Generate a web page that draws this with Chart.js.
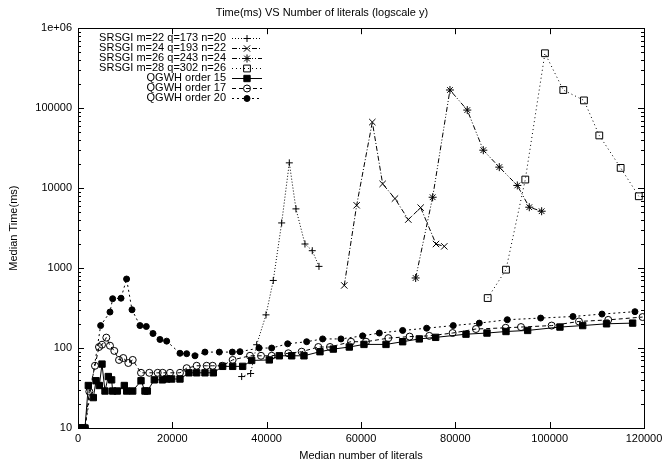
<!DOCTYPE html>
<html>
<head>
<meta charset="utf-8">
<title>Time(ms) VS Number of literals</title>
<script src="https://cdn.jsdelivr.net/npm/chart.js@4.4.1/dist/chart.umd.min.js"></script>
<style>
  body { margin: 0; background: #fff; }
</style>
</head>
<body>
<canvas id="timeChart" width="671" height="466"></canvas>
<script>
// median number of literals (x) and median time in ms (y) for each run
const srsgi22Literals = [34700, 36600, 37880, 39860, 41400, 43180, 44800, 46210, 48120, 49670, 51090];
const srsgi22Times = [44, 48, 110, 260, 700, 3670, 20700, 5500, 2000, 1650, 1050];

const srsgi24Literals = [56450, 59080, 62400, 64590, 67200, 70030, 72650, 75900, 77660];
const srsgi24Times = [607, 6100, 67000, 11300, 7400, 4040, 5700, 2000, 1870];

const srsgi26Literals = [71590, 75190, 78860, 82530, 85930, 89320, 93140, 95680, 98300];
const srsgi26Times = [752, 7690, 168700, 94600, 29800, 18300, 10800, 5770, 5140];

const srsgi28Literals = [86860, 90740, 94830, 99000, 102890, 107270, 110520, 115050, 118900];
const srsgi28Times = [422, 955, 12800, 486000, 168700, 125000, 45600, 17900, 7910];

const qgwh15Literals = [0, 780, 1480, 2190, 3250, 3820, 4520, 5090, 5720, 6430, 7130, 7350, 8340, 9820,
  10320, 11600, 13360, 14200, 14700, 16180, 17880, 18800, 19860, 21620, 23530, 25160, 26920, 28690,
  30670, 32790, 34910, 36820, 40560, 42680, 45300, 47910, 51300, 54130, 57520, 60630, 65300, 68830,
  72360, 75830, 82260, 86710, 90740, 95330, 102180, 107000, 112060, 117590];
const qgwh15Times = [10, 10, 10, 34, 24, 39, 34, 63, 29, 44, 40, 29, 29, 34,
  29, 29, 39, 29, 29, 40, 40, 41, 41, 41, 49, 49, 49, 49,
  59, 59, 59, 70, 71, 80, 80, 80, 90, 97, 103, 111, 111, 120,
  130, 136, 149, 154, 161, 166, 183, 191, 201, 205];

const qgwh17Literals = [0, 800, 1480, 2400, 3600, 4450, 5090, 6000, 6780, 7700, 8700, 9600, 10670, 11600,
  13360, 15120, 16900, 17950, 19500, 21620, 23040, 25160, 27280, 28550, 30590, 32790, 36460, 38800,
  41060, 44590, 47420, 50950, 53420, 57880, 61060, 65790, 70300, 74470, 79420, 84370, 90670, 93920,
  100420, 106210, 112420, 119700];
const qgwh17Times = [10, 10, 10, 28.5, 60, 103, 110, 135, 107, 92, 71, 75, 65, 71,
  49, 49, 49, 49, 49, 49, 56, 60, 60, 60, 60, 71, 80, 80,
  80, 86, 90, 103, 103, 120, 120, 133, 139, 142, 154, 173, 179, 183,
  191, 215, 225, 244];

const qgwh20Literals = [0, 800, 1480, 4800, 6780, 7350, 9120, 10300, 11450, 13140, 14480, 15900, 17380,
  18800, 21620, 23040, 24800, 26920, 29960, 32720, 34340, 38400, 41060, 44450, 48480, 51870, 55750,
  60350, 63880, 68830, 73920, 79560, 85080, 91020, 98090, 104940, 111090, 118080];
const qgwh20Times = [10, 10, 10, 191, 282, 414, 420, 730, 301, 191, 186, 152, 128,
  122, 86, 85, 80, 89, 89, 89, 90, 100, 100, 113, 120, 130, 130,
  142, 154, 166, 177, 191, 205, 226, 237, 248, 266, 285];

const xTicks = [0, 20000, 40000, 60000, 80000, 100000, 120000];
const yTicks = [10, 100, 1000, 10000, 100000, 1000000];

const FONT = "'Liberation Sans', Arial, Helvetica, sans-serif";
Chart.defaults.font.family = FONT;
Chart.defaults.font.size = 11;
Chart.defaults.color = '#000';

function points(xs, ys) {
  return xs.map((x, i) => ({ x: x, y: ys[i] }));
}

function series(label, xs, ys, style) {
  return Object.assign({
    label: label,
    data: points(xs, ys),
    borderColor: '#000',
    borderWidth: 1,
    pointBorderColor: '#000',
    pointBorderWidth: 1,
    pointBackgroundColor: 'rgba(0,0,0,0)',
    tension: 0,
    fill: false
  }, style);
}

const datasets = [
  series('SRSGI m=22 q=173 n=20', srsgi22Literals, srsgi22Times,
    { borderDash: [1, 2], pointStyle: 'cross', pointRadius: 3.5 }),
  series('SRSGI m=24 q=193 n=22', srsgi24Literals, srsgi24Times,
    { borderDash: [5, 2, 1, 2], pointStyle: 'crossRot', pointRadius: 4.5 }),
  series('SRSGI m=26 q=243 n=24', srsgi26Literals, srsgi26Times,
    { borderDash: [5, 2, 1, 2, 1, 2], pointStyle: 'star', pointRadius: 4 }),
  series('SRSGI m=28 q=302 n=26', srsgi28Literals, srsgi28Times,
    { borderDash: [1, 3], pointStyle: 'rect', pointRadius: 4.8 }),
  series('QGWH order 15', qgwh15Literals, qgwh15Times,
    { pointStyle: 'rect', pointRadius: 4.5, pointBackgroundColor: '#000' }),
  series('QGWH order 17', qgwh17Literals, qgwh17Times,
    { borderDash: [4, 3], pointStyle: 'circle', pointRadius: 3.5 }),
  series('QGWH order 20', qgwh20Literals, qgwh20Times,
    { borderDash: [2, 3], pointStyle: 'circle', pointRadius: 3, pointBackgroundColor: '#000' })
];

// frame with inward ticks on all four sides (gnuplot style)
const frameTicks = {
  id: 'frameTicks',
  afterDatasetsDraw(chart) {
    const { ctx, chartArea: a, scales: { x, y } } = chart;
    ctx.save();
    ctx.strokeStyle = '#000';
    ctx.lineWidth = 1;
    ctx.setLineDash([]);
    ctx.beginPath();
    xTicks.forEach(v => {
      const px = Math.round(x.getPixelForValue(v)) + 0.5;
      ctx.moveTo(px, a.bottom); ctx.lineTo(px, a.bottom - 6);
      ctx.moveTo(px, a.top); ctx.lineTo(px, a.top + 6);
    });
    yTicks.forEach((v, i) => {
      const py = Math.round(y.getPixelForValue(v)) + 0.5;
      ctx.moveTo(a.left, py); ctx.lineTo(a.left + 6, py);
      ctx.moveTo(a.right, py); ctx.lineTo(a.right - 6, py);
      if (i === yTicks.length - 1) return;
      for (let m = 2; m <= 9; m++) {
        const my = Math.round(y.getPixelForValue(v * m)) + 0.5;
        ctx.moveTo(a.left, my); ctx.lineTo(a.left + 3, my);
        ctx.moveTo(a.right, my); ctx.lineTo(a.right - 3, my);
      }
    });
    ctx.stroke();
    ctx.strokeRect(Math.round(a.left) + 0.5, Math.round(a.top) + 0.5,
      Math.round(a.width), Math.round(a.height));
    ctx.restore();
  }
};

// key in the top-left corner: label, then line sample with its marker
const keyBox = {
  id: 'keyBox',
  afterDraw(chart) {
    const ctx = chart.ctx;
    const textRight = 226, lineLeft = 232, lineRight = 262;
    ctx.save();
    ctx.font = '11px ' + FONT;
    ctx.textAlign = 'right';
    ctx.textBaseline = 'middle';
    chart.data.datasets.forEach((ds, i) => {
      const yy = 38 + i * 10;
      ctx.fillStyle = '#000';
      ctx.fillText(ds.label, textRight, yy);
      ctx.strokeStyle = '#000';
      ctx.lineWidth = 1;
      ctx.setLineDash(ds.borderDash || []);
      ctx.beginPath();
      ctx.moveTo(lineLeft, yy + 0.5);
      ctx.lineTo(lineRight, yy + 0.5);
      ctx.stroke();
      ctx.setLineDash([]);
      ctx.fillStyle = ds.pointBackgroundColor;
      if (Chart.helpers && Chart.helpers.drawPoint) {
        Chart.helpers.drawPoint(ctx, {
          pointStyle: ds.pointStyle, radius: ds.pointRadius, rotation: 0, borderWidth: 1
        }, (lineLeft + lineRight) / 2, yy + 0.5);
      }
    });
    ctx.restore();
  }
};

new Chart(document.getElementById('timeChart').getContext('2d'), {
  type: 'line',
  data: { datasets: datasets },
  options: {
    responsive: false,
    animation: false,
    layout: { padding: { left: 0, right: 27, top: 0, bottom: 0 } },
    plugins: {
      legend: { display: false },
      tooltip: { enabled: false },
      title: {
        display: true,
        text: 'Time(ms) VS Number of literals (logscale y)',
        font: { size: 11, weight: 'normal' },
        color: '#000',
        padding: { top: 6, bottom: 9 }
      }
    },
    scales: {
      x: {
        type: 'linear',
        min: 0,
        max: 120000,
        afterBuildTicks: s => { s.ticks = xTicks.map(v => ({ value: v })); },
        afterFit: s => { s.height = 38; },
        ticks: { callback: v => String(v), padding: 4, maxRotation: 0, autoSkip: false },
        grid: { display: false, drawTicks: false },
        border: { display: false },
        title: { display: true, text: 'Median number of literals', padding: { top: 0, bottom: 3 } }
      },
      y: {
        type: 'logarithmic',
        min: 10,
        max: 1000000,
        afterBuildTicks: s => { s.ticks = yTicks.map(v => ({ value: v })); },
        afterFit: s => { s.width = 78; },
        ticks: { callback: v => (v === 1000000 ? '1e+06' : String(v)), padding: 6, autoSkip: false },
        grid: { display: false, drawTicks: false },
        border: { display: false },
        title: { display: true, text: 'Median Time(ms)', padding: { top: 7, bottom: 0 } }
      }
    }
  },
  plugins: [frameTicks, keyBox]
});
</script>
</body>
</html>
